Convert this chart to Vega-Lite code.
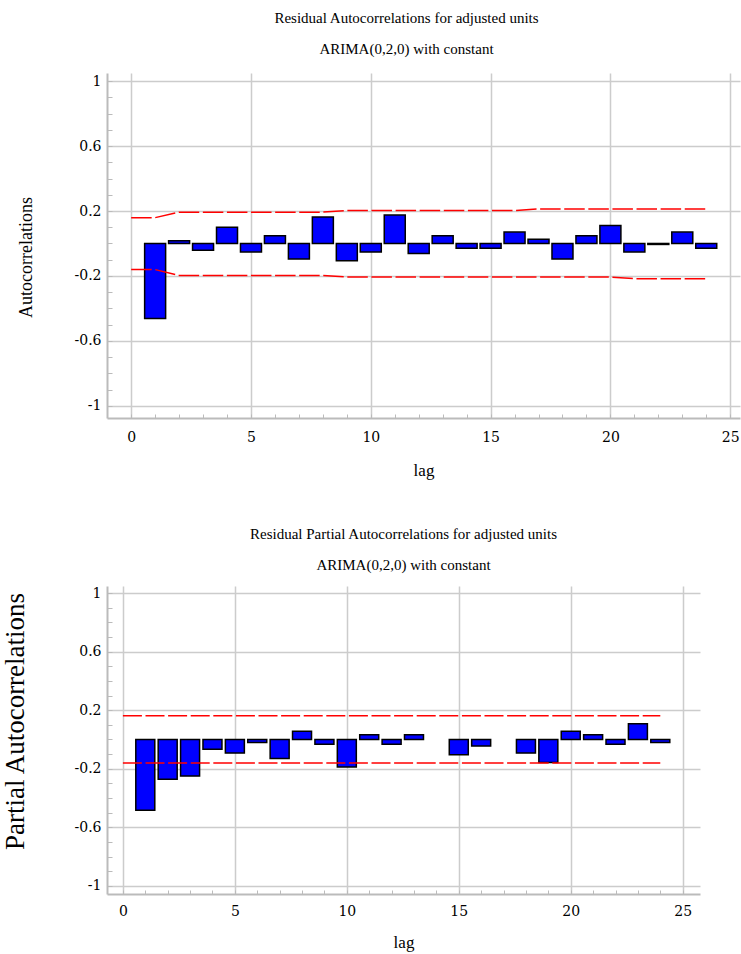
{
  "$schema": "https://vega.github.io/schema/vega-lite/v6.json",
  "background": "white",
  "padding": {"left": 1, "top": 11, "right": 2, "bottom": 2},
  "spacing": 49,
  "config": {
    "view": {"stroke": null},
    "font": "Liberation Serif",
    "axis": {
      "labelFont": "DejaVu Serif", "labelFontSize": 14, "labelColor": "black",
      "titleFont": "Liberation Serif", "titleFontSize": 17, "titleFontWeight": "normal", "titleColor": "black",
      "gridColor": "#cccccc", "gridWidth": 1.5,
      "domainColor": "#bbbbbb", "domainWidth": 2,
      "tickColor": "#bbbbbb", "tickWidth": 1, "tickSize": -5,
      "labelOverlap": false, "labelFlush": false
    },
    "title": {"font": "Liberation Serif", "fontSize": 15, "fontWeight": "normal", "color": "black", "lineHeight": 31, "anchor": "middle", "offset": 16}
  },
  "vconcat": [
    {
      "title": {"text": ["Residual Autocorrelations for adjusted units", "ARIMA(0,2,0) with constant"], "dx": -17},
      "width": 633,
      "height": 345,
      "data": {"values": [
        {"lag": 0, "acf": null, "upper": 0.159, "lower": -0.161},
        {"lag": 1, "acf": -0.462, "upper": 0.159, "lower": -0.161},
        {"lag": 2, "acf": 0.016, "upper": 0.193, "lower": -0.197},
        {"lag": 3, "acf": -0.042, "upper": 0.193, "lower": -0.197},
        {"lag": 4, "acf": 0.100, "upper": 0.193, "lower": -0.197},
        {"lag": 5, "acf": -0.052, "upper": 0.193, "lower": -0.197},
        {"lag": 6, "acf": 0.048, "upper": 0.193, "lower": -0.197},
        {"lag": 7, "acf": -0.096, "upper": 0.193, "lower": -0.197},
        {"lag": 8, "acf": 0.163, "upper": 0.193, "lower": -0.197},
        {"lag": 9, "acf": -0.106, "upper": 0.203, "lower": -0.207},
        {"lag": 10, "acf": -0.052, "upper": 0.203, "lower": -0.207},
        {"lag": 11, "acf": 0.175, "upper": 0.203, "lower": -0.207},
        {"lag": 12, "acf": -0.062, "upper": 0.203, "lower": -0.207},
        {"lag": 13, "acf": 0.048, "upper": 0.203, "lower": -0.207},
        {"lag": 14, "acf": -0.030, "upper": 0.203, "lower": -0.207},
        {"lag": 15, "acf": -0.030, "upper": 0.203, "lower": -0.207},
        {"lag": 16, "acf": 0.070, "upper": 0.203, "lower": -0.207},
        {"lag": 17, "acf": 0.026, "upper": 0.213, "lower": -0.207},
        {"lag": 18, "acf": -0.096, "upper": 0.213, "lower": -0.207},
        {"lag": 19, "acf": 0.048, "upper": 0.213, "lower": -0.207},
        {"lag": 20, "acf": 0.110, "upper": 0.213, "lower": -0.207},
        {"lag": 21, "acf": -0.052, "upper": 0.213, "lower": -0.217},
        {"lag": 22, "acf": -0.006, "upper": 0.213, "lower": -0.217},
        {"lag": 23, "acf": 0.070, "upper": 0.213, "lower": -0.217},
        {"lag": 24, "acf": -0.030, "upper": 0.213, "lower": -0.217}
      ]},
      "encoding": {
        "x": {"field": "lag", "type": "quantitative",
          "scale": {"domain": [-0.8, 25.2], "nice": false, "zero": false},
          "axis": {
            "values": [0,1,2,3,4,5,6,7,8,9,10,11,12,13,14,15,16,17,18,19,20,21,22,23,24,25],
            "labelExpr": "datum.value % 5 == 0 ? datum.label : ''",
            "gridOpacity": {"condition": {"test": "datum.value % 5 == 0", "value": 1}, "value": 0},
            "tickSize": -4, "labelPadding": 16, "title": "lag", "titlePadding": 18
          }}
      },
      "layer": [
        {
          "mark": {"type": "bar", "width": 21, "fill": "#0000ff", "stroke": "black", "strokeWidth": 1.5},
          "encoding": {
            "y": {"field": "acf", "type": "quantitative",
              "scale": {"domain": [-1.075, 1.05], "nice": false, "zero": false},
              "axis": {
                "values": [-1,-0.9,-0.8,-0.7,-0.6,-0.5,-0.4,-0.3,-0.2,-0.1,0,0.1,0.2,0.3,0.4,0.5,0.6,0.7,0.8,0.9,1],
                "labelExpr": "abs(round(datum.value*10)) % 4 == 2 ? toString(datum.value) : ''",
                "gridOpacity": {"condition": {"test": "abs(round(datum.value*10)) % 4 == 2", "value": 1}, "value": 0},
                "labelPadding": 11, "title": "Autocorrelations", "titlePadding": 39, "titleFontSize": 18, "titleY": 184
              }},
            "y2": {"datum": 0}
          }
        },
        {
          "mark": {"type": "line", "color": "#ff0000", "strokeWidth": 1.5, "strokeDash": [20.5, 3.6]},
          "encoding": {
            "y": {"field": "upper", "type": "quantitative",
              "scale": {"domain": [-1.075, 1.05], "nice": false, "zero": false},
              "axis": {
                "values": [-1,-0.9,-0.8,-0.7,-0.6,-0.5,-0.4,-0.3,-0.2,-0.1,0,0.1,0.2,0.3,0.4,0.5,0.6,0.7,0.8,0.9,1],
                "labelExpr": "abs(round(datum.value*10)) % 4 == 2 ? toString(datum.value) : ''",
                "gridOpacity": {"condition": {"test": "abs(round(datum.value*10)) % 4 == 2", "value": 1}, "value": 0},
                "labelPadding": 11, "title": "Autocorrelations", "titlePadding": 39, "titleFontSize": 18, "titleY": 184
              }}
          }
        },
        {
          "mark": {"type": "line", "color": "#ff0000", "strokeWidth": 1.5, "strokeDash": [20.5, 3.6]},
          "encoding": {
            "y": {"field": "lower", "type": "quantitative",
              "scale": {"domain": [-1.075, 1.05], "nice": false, "zero": false},
              "axis": {
                "values": [-1,-0.9,-0.8,-0.7,-0.6,-0.5,-0.4,-0.3,-0.2,-0.1,0,0.1,0.2,0.3,0.4,0.5,0.6,0.7,0.8,0.9,1],
                "labelExpr": "abs(round(datum.value*10)) % 4 == 2 ? toString(datum.value) : ''",
                "gridOpacity": {"condition": {"test": "abs(round(datum.value*10)) % 4 == 2", "value": 1}, "value": 0},
                "labelPadding": 11, "title": "Autocorrelations", "titlePadding": 39, "titleFontSize": 18, "titleY": 184
              }}
          }
        }
      ]
    },
    {
      "title": {"text": ["Residual Partial Autocorrelations for adjusted units", "ARIMA(0,2,0) with constant"], "dx": 0, "offset": 13},
      "width": 593,
      "height": 308,
      "data": {"values": [
        {"lag": 0, "pacf": null, "upper": 0.162, "lower": -0.160},
        {"lag": 1, "pacf": -0.483, "upper": 0.162, "lower": -0.160},
        {"lag": 2, "pacf": -0.271, "upper": 0.162, "lower": -0.160},
        {"lag": 3, "pacf": -0.250, "upper": 0.162, "lower": -0.160},
        {"lag": 4, "pacf": -0.067, "upper": 0.162, "lower": -0.160},
        {"lag": 5, "pacf": -0.093, "upper": 0.162, "lower": -0.160},
        {"lag": 6, "pacf": -0.020, "upper": 0.162, "lower": -0.160},
        {"lag": 7, "pacf": -0.129, "upper": 0.162, "lower": -0.160},
        {"lag": 8, "pacf": 0.057, "upper": 0.162, "lower": -0.160},
        {"lag": 9, "pacf": -0.033, "upper": 0.162, "lower": -0.160},
        {"lag": 10, "pacf": -0.188, "upper": 0.162, "lower": -0.160},
        {"lag": 11, "pacf": 0.033, "upper": 0.162, "lower": -0.160},
        {"lag": 12, "pacf": -0.033, "upper": 0.162, "lower": -0.160},
        {"lag": 13, "pacf": 0.033, "upper": 0.162, "lower": -0.160},
        {"lag": 14, "pacf": null, "upper": 0.162, "lower": -0.160},
        {"lag": 15, "pacf": -0.105, "upper": 0.162, "lower": -0.160},
        {"lag": 16, "pacf": -0.045, "upper": 0.162, "lower": -0.160},
        {"lag": 17, "pacf": null, "upper": 0.162, "lower": -0.160},
        {"lag": 18, "pacf": -0.093, "upper": 0.162, "lower": -0.160},
        {"lag": 19, "pacf": -0.157, "upper": 0.162, "lower": -0.160},
        {"lag": 20, "pacf": 0.057, "upper": 0.162, "lower": -0.160},
        {"lag": 21, "pacf": 0.033, "upper": 0.162, "lower": -0.160},
        {"lag": 22, "pacf": -0.033, "upper": 0.162, "lower": -0.160},
        {"lag": 23, "pacf": 0.107, "upper": 0.162, "lower": -0.160},
        {"lag": 24, "pacf": -0.020, "upper": 0.162, "lower": -0.160}
      ]},
      "encoding": {
        "x": {"field": "lag", "type": "quantitative",
          "scale": {"domain": [-0.487, 25.55], "nice": false, "zero": false},
          "axis": {
            "values": [0,1,2,3,4,5,6,7,8,9,10,11,12,13,14,15,16,17,18,19,20,21,22,23,24,25],
            "labelExpr": "datum.value % 5 == 0 ? datum.label : ''",
            "gridOpacity": {"condition": {"test": "datum.value % 5 == 0", "value": 1}, "value": 0},
            "tickSize": -4, "labelPadding": 14, "title": "lag", "titlePadding": 16
          }}
      },
      "layer": [
        {
          "mark": {"type": "bar", "width": 19, "fill": "#0000ff", "stroke": "black", "strokeWidth": 1.5},
          "encoding": {
            "y": {"field": "pacf", "type": "quantitative",
              "scale": {"domain": [-1.055, 1.048], "nice": false, "zero": false},
              "axis": {
                "values": [-1,-0.9,-0.8,-0.7,-0.6,-0.5,-0.4,-0.3,-0.2,-0.1,0,0.1,0.2,0.3,0.4,0.5,0.6,0.7,0.8,0.9,1],
                "labelExpr": "abs(round(datum.value*10)) % 4 == 2 ? toString(datum.value) : ''",
                "gridOpacity": {"condition": {"test": "abs(round(datum.value*10)) % 4 == 2", "value": 1}, "value": 0},
                "labelPadding": 11, "title": "Partial Autocorrelations", "titlePadding": 45, "titleFontSize": 27, "titleY": 135
              }},
            "y2": {"datum": 0}
          }
        },
        {
          "mark": {"type": "line", "color": "#ff0000", "strokeWidth": 1.5, "strokeDash": [19, 3.6]},
          "encoding": {
            "y": {"field": "upper", "type": "quantitative",
              "scale": {"domain": [-1.055, 1.048], "nice": false, "zero": false},
              "axis": {
                "values": [-1,-0.9,-0.8,-0.7,-0.6,-0.5,-0.4,-0.3,-0.2,-0.1,0,0.1,0.2,0.3,0.4,0.5,0.6,0.7,0.8,0.9,1],
                "labelExpr": "abs(round(datum.value*10)) % 4 == 2 ? toString(datum.value) : ''",
                "gridOpacity": {"condition": {"test": "abs(round(datum.value*10)) % 4 == 2", "value": 1}, "value": 0},
                "labelPadding": 11, "title": "Partial Autocorrelations", "titlePadding": 45, "titleFontSize": 27, "titleY": 135
              }}
          }
        },
        {
          "mark": {"type": "line", "color": "#ff0000", "strokeWidth": 1.5, "strokeDash": [19, 3.6]},
          "encoding": {
            "y": {"field": "lower", "type": "quantitative",
              "scale": {"domain": [-1.055, 1.048], "nice": false, "zero": false},
              "axis": {
                "values": [-1,-0.9,-0.8,-0.7,-0.6,-0.5,-0.4,-0.3,-0.2,-0.1,0,0.1,0.2,0.3,0.4,0.5,0.6,0.7,0.8,0.9,1],
                "labelExpr": "abs(round(datum.value*10)) % 4 == 2 ? toString(datum.value) : ''",
                "gridOpacity": {"condition": {"test": "abs(round(datum.value*10)) % 4 == 2", "value": 1}, "value": 0},
                "labelPadding": 11, "title": "Partial Autocorrelations", "titlePadding": 45, "titleFontSize": 27, "titleY": 135
              }}
          }
        }
      ]
    }
  ]
}
